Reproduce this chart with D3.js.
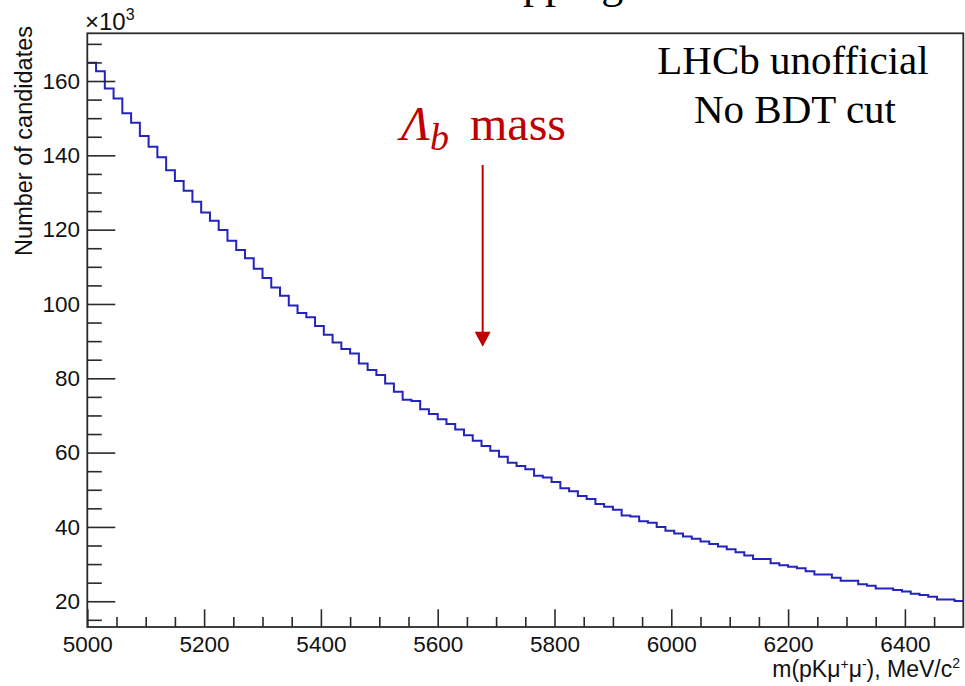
<!DOCTYPE html>
<html><head><meta charset="utf-8">
<script src="https://cdn.jsdelivr.net/npm/d3@7"></script>
<style>
body{margin:0;background:#fff;}
svg{display:block;}
</style>
</head><body>
<svg id="chart" width="965" height="686"></svg>
<script>
// ---- data (counts in units of 10^3 per 15 MeV/c^2 bin) ----
const binLow = 5000;
const binWidth = 15;
const counts = [
  164.9, 162.6, 158.0, 155.3, 151.3, 148.8, 145.2, 142.3, 139.5, 136.0,
  133.1, 130.5, 127.5, 124.6, 122.4, 119.9, 117.0, 114.5, 112.3, 109.5,
  107.0, 104.4, 102.2, 99.6, 97.6, 96.4, 94.1, 91.7, 89.6, 87.9,
  86.7, 84.0, 82.2, 80.9, 78.6, 76.4, 74.2, 73.9, 71.7, 70.4,
  69.0, 67.7, 66.2, 64.7, 63.2, 61.8, 60.5, 58.9, 57.3, 56.4,
  55.5, 53.8, 53.3, 52.1, 50.4, 49.6, 48.3, 47.5, 46.2, 45.4,
  44.6, 43.1, 42.8, 41.5, 41.1, 40.0, 39.0, 38.2, 37.4, 36.8,
  36.1, 35.4, 34.7, 34.0, 33.2, 32.3, 31.4, 31.4, 30.2, 29.7,
  29.3, 28.9, 28.1, 27.2, 27.2, 26.3, 25.5, 25.5, 24.6, 24.2,
  23.4, 23.4, 23.0, 22.6, 22.0, 21.7, 21.2, 20.5, 20.5, 20.1
];
const xMajorTicks = [5000, 5200, 5400, 5600, 5800, 6000, 6200, 6400];
const xMinorTicks = d3.range(5050, 6500, 50).filter(v => v % 200 !== 0);
const yMajorTicks = [20, 40, 60, 80, 100, 120, 140, 160];
const yMinorTicks = d3.range(15, 171, 5).filter(v => v % 20 !== 0);
const xDomain = [5000, 6500];
const yDomain = [13.07, 172.84];
const arrowMass = 5677;          // position of the annotation arrow (MeV/c^2)
const arrowRange = [137.4, 88.5]; // arrow top / tip in 10^3 units

const svg = d3.select("#chart");
const L = 87.3, R = 963.3, T = 33.3, B = 627;
const x = d3.scaleLinear().domain(xDomain).range([L, R]);
const y = d3.scaleLinear().domain(yDomain).range([B, T]);
const sans = "'Liberation Sans', Arial, Helvetica, sans-serif";
const serif = "'Liberation Serif', 'Times New Roman', serif";
const axisCol = "#2a2a2a";

// title fragment cut off at the top (as in the reference)
svg.append("text").attr("x", 363).attr("y", -2)
  .attr("font-family", serif).attr("font-size", 44).attr("fill", "#000")
  .text("After stripping");

// histogram
const pts = [];
counts.forEach((c, i) => {
  pts.push([x(binLow + i * binWidth), y(c)]);
  pts.push([x(binLow + (i + 1) * binWidth), y(c)]);
});
svg.append("path").attr("d", d3.line()(pts))
  .attr("fill", "none").attr("stroke", "#2323bd").attr("stroke-width", 2)
  .attr("stroke-linejoin", "miter");

// x axis
const gx = svg.append("g").attr("transform", `translate(0,${B})`);
gx.call(d3.axisBottom(x).tickValues(xMajorTicks).tickSize(-17.7).tickSizeOuter(0).tickPadding(8.7).tickFormat(d3.format("d")));
gx.append("g").call(d3.axisBottom(x).tickValues(xMinorTicks).tickSize(-10).tickSizeOuter(0).tickFormat(""));
gx.selectAll(".domain").remove();
gx.selectAll("line").attr("stroke", axisCol).attr("stroke-width", 1.6);
gx.selectAll("text").attr("font-family", sans).attr("font-size", 22.5).attr("fill", "#111");

// y axis
const gy = svg.append("g").attr("transform", `translate(${L},0)`);
gy.call(d3.axisLeft(y).tickValues(yMajorTicks).tickSize(-28).tickSizeOuter(0).tickPadding(7.3).tickFormat(d3.format("d")));
gy.append("g").call(d3.axisLeft(y).tickValues(yMinorTicks).tickSize(-14.5).tickSizeOuter(0).tickFormat(""));
gy.selectAll(".domain").remove();
gy.selectAll("line").attr("stroke", axisCol).attr("stroke-width", 1.6);
gy.selectAll("text").attr("font-family", sans).attr("font-size", 22.5).attr("fill", "#111");

// frame
svg.append("rect").attr("x", L).attr("y", T).attr("width", R - L).attr("height", B - T)
  .attr("fill", "none").attr("stroke", axisCol).attr("stroke-width", 1.8);

// x10^3 exponent
const ex = svg.append("text").attr("x", 85).attr("y", 30)
  .attr("font-family", sans).attr("font-size", 24).attr("fill", "#111");
ex.append("tspan").text("\u00d710");
ex.append("tspan").attr("font-size", 16).attr("dy", -10).text("3");

// axis titles
svg.append("text").attr("transform", "translate(32,26) rotate(-90)")
  .attr("text-anchor", "end").attr("font-family", sans).attr("font-size", 23.5).attr("fill", "#111")
  .text("Number of candidates");

const xt = svg.append("text").attr("x", 960).attr("y", 677).attr("text-anchor", "end")
  .attr("font-family", sans).attr("font-size", 23).attr("fill", "#111");
xt.append("tspan").text("m(pK\u03bc");
xt.append("tspan").attr("font-size", 14).attr("dy", -8).text("+");
xt.append("tspan").attr("font-size", 23).attr("dy", 8).text("\u03bc");
xt.append("tspan").attr("font-size", 14).attr("dy", -8).text("-");
xt.append("tspan").attr("font-size", 23).attr("dy", 8).text("), MeV/c");
xt.append("tspan").attr("font-size", 14).attr("dy", -9).text("2");

// LHCb labels
svg.append("text").attr("x", 793).attr("y", 74).attr("text-anchor", "middle")
  .attr("font-family", serif).attr("font-size", 41).attr("fill", "#000").text("LHCb unofficial");
svg.append("text").attr("x", 795).attr("y", 123).attr("text-anchor", "middle")
  .attr("font-family", serif).attr("font-size", 41).attr("fill", "#000").text("No BDT cut");

// Lambda_b mass annotation
const red = "#c00000";
svg.append("text").attr("x", 401).attr("y", 140).attr("font-family", serif).attr("font-style", "italic")
  .attr("font-size", 48).attr("fill", red).text("\u039b");
svg.append("text").attr("x", 430).attr("y", 150).attr("font-family", serif).attr("font-style", "italic")
  .attr("font-size", 38).attr("fill", red).text("b");
svg.append("text").attr("x", 470).attr("y", 140).attr("font-family", serif)
  .attr("font-size", 48).attr("fill", red).text("mass");

const ax = x(arrowMass);
const yTop = y(arrowRange[0]), yTip = y(arrowRange[1]);
svg.append("line").attr("x1", ax).attr("x2", ax).attr("y1", yTop).attr("y2", yTip - 12)
  .attr("stroke", red).attr("stroke-width", 2);
svg.append("path").attr("d", `M${ax - 8},${yTip - 15}L${ax + 8},${yTip - 15}L${ax},${yTip}Z`).attr("fill", red);
</script>
</body></html>
